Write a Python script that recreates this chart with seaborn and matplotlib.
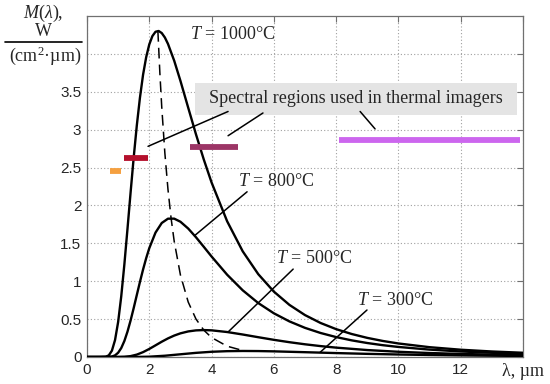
import numpy as np
import pandas as pd
import matplotlib
matplotlib.use("Agg")
import matplotlib.pyplot as plt
import seaborn as sns
from matplotlib.lines import Line2D
from matplotlib.patches import Rectangle

# wavelength (um) and spectral exitance M (W / (cm^2 um))
lam_1000 = [0, 0.4, 0.6, 0.7, 0.8, 0.9, 1.0, 1.1, 1.2, 1.3, 1.4, 1.5, 1.6, 1.7, 1.8, 1.9,
            2.0, 2.1, 2.2, 2.3, 2.4, 2.5, 2.6, 2.8, 3.0, 3.25, 3.5, 3.75, 4.0, 4.5, 5.0,
            5.5, 6.0, 6.5, 7, 7.5, 8, 8.5, 9, 9.5, 10, 11, 12, 13, 14]
m_1000 = [0, 0, 0.0032, 0.0217, 0.0837, 0.223, 0.4625, 0.802, 1.2225, 1.6905, 2.1724,
          2.6357, 3.058, 3.4216, 3.7243, 3.956, 4.1256, 4.2353, 4.2919, 4.3025, 4.2751,
          4.2166, 4.1325, 3.910, 3.6446, 3.2895, 2.9376, 2.6062, 2.3031, 1.7911, 1.3947,
          1.0927, 0.8629, 0.6877, 0.5531, 0.4489, 0.3676, 0.3034, 0.2524, 0.2116, 0.1785,
          0.1295, 0.0961, 0.0728, 0.0560]

lam_800 = [0, 0.6, 0.8, 0.9, 1.0, 1.1, 1.2, 1.3, 1.4, 1.5, 1.6, 1.7, 1.8, 1.9, 2.0, 2.2,
           2.4, 2.6, 2.8, 3.0, 3.25, 3.5, 3.75, 4.0, 4.5, 5.0, 5.5, 6.0, 6.5, 7, 7.5, 8,
           8.5, 9, 9.5, 10, 11, 12, 13, 14]
m_800 = [0, 0.0001, 0.006, 0.0215, 0.0563, 0.1183, 0.2114, 0.3346, 0.4825, 0.647, 0.8193,
         0.9907, 1.1541, 1.3036, 1.4362, 1.6419, 1.7683, 1.8252, 1.8258, 1.785, 1.6951,
         1.58, 1.454, 1.3262, 1.0859, 0.8801, 0.7117, 0.5768, 0.4697, 0.3846, 0.3169,
         0.2629, 0.2195, 0.1844, 0.1559, 0.1326, 0.0975, 0.0731, 0.0558, 0.0433]

lam_500 = [0, 1.0, 1.2, 1.4, 1.6, 1.8, 2.0, 2.2, 2.4, 2.6, 2.8, 3.0, 3.25, 3.5, 3.75, 4.0,
           4.5, 5.0, 5.5, 6.0, 6.5, 7, 7.5, 8, 9, 10, 11, 12, 13, 14]
m_500 = [0, 0.0003, 0.0028, 0.0117, 0.0317, 0.0641, 0.1064, 0.1539, 0.2017, 0.2455,
         0.2827, 0.3121, 0.3375, 0.3513, 0.3554, 0.3519, 0.3296, 0.2968, 0.2611, 0.2266,
         0.1953, 0.1677, 0.1439, 0.1236, 0.0917, 0.0689, 0.0525, 0.0405, 0.0316, 0.025]

lam_300 = [0, 1.5, 2.0, 2.5, 3.0, 3.5, 4.0, 4.5, 5.0, 5.5, 6.0, 7, 8, 9, 10, 11, 12, 13, 14]
m_300 = [0, 0.0003, 0.0041, 0.0167, 0.0358, 0.0547, 0.0689, 0.0769, 0.0796, 0.0783,
         0.0745, 0.0634, 0.0518, 0.0415, 0.0331, 0.0264, 0.0212, 0.0171, 0.0139]

# locus of the maxima (dashed)
lam_peak = [2.276, 2.34, 2.4, 2.5, 2.6, 2.7, 2.8, 3.0, 3.25, 3.5, 3.75, 4.0, 4.5, 5.06]
m_peak = [4.302, 3.746, 3.300, 2.692, 2.212, 1.832, 1.527, 1.082, 0.725, 0.5005, 0.3545,
          0.2567, 0.1425, 0.0792]

temps = ["1000", "800", "500", "300"]

# spectral bands used in thermal imagers (um) and the level they are drawn at
band_start = [0.75, 1.2, 3.3, 8.1]
band_end = [1.1, 1.95, 4.85, 13.9]
band_level = [2.46, 2.63, 2.77, 2.87]
band_colors = ["#f5a040", "#b4102c", "#9c3566", "#cc66ee"]

x_ticks = [0, 2, 4, 6, 8, 10, 12, 14]
x_tick_labels = ["0", "2", "4", "6", "8", "10", "12", "λ, µm"]
y_ticks = [0, 0.5, 1, 1.5, 2, 2.5, 3, 3.5, 4]
y_tick_labels = ["0", "0.5", "1", "1.5", "2", "2.5", "3", "3.5", ""]

sns.set_style("white")
plt.rcParams["font.family"] = ["Liberation Sans", "DejaVu Sans"]
plt.rcParams["mathtext.fontset"] = "custom"
plt.rcParams["mathtext.rm"] = "Liberation Serif"
plt.rcParams["mathtext.it"] = "Liberation Serif:italic"
serif = ["Liberation Serif", "DejaVu Serif"]

frames = []
for t, lam, m in zip(temps, [lam_1000, lam_800, lam_500, lam_300],
                     [m_1000, m_800, m_500, m_300]):
    frames.append(pd.DataFrame({"lam": lam, "M": m, "T": t}))
curves = pd.concat(frames, ignore_index=True)
peaks = pd.DataFrame({"lam": lam_peak, "M": m_peak})

fig = plt.figure(figsize=(5.5, 3.84), dpi=100)
ax = fig.add_axes([87 / 550, 27 / 384, 436 / 550, 341 / 384])

ax.grid(True, linestyle=(0, (1, 2)), color="#a0a0a0", lw=0.8)
ax.set_axisbelow(True)

sns.lineplot(data=curves, x="lam", y="M", hue="T", palette={t: "black" for t in temps},
             estimator=None, legend=False, lw=1.7, ax=ax, zorder=3)
sns.lineplot(data=peaks, x="lam", y="M", color="black", lw=1.1, ax=ax, zorder=3,
             dashes=False, linestyle=(0, (7, 4)))

for x0, x1, y, c in zip(band_start, band_end, band_level, band_colors):
    ax.plot([x0, x1], [y, y], color=c, lw=4.2, solid_capstyle="butt", zorder=4)

# caption box with leader lines
ax.add_patch(Rectangle((3.47, 3.20), 10.34, 0.41, facecolor="#e4e4e4",
                       edgecolor="none", zorder=2))
ax.text(8.64, 3.41, "Spectral regions used in thermal imagers", ha="center",
        va="center", fontsize=13, family=serif, zorder=5)
for (xa, ya), (xb, yb) in [((4.53, 3.24), (1.96, 2.78)),
                           ((5.65, 3.22), (4.53, 2.92)),
                           ((8.77, 3.24), (9.25, 3.01))]:
    ax.plot([xa, xb], [ya, yb], color="black", lw=1.1, zorder=5)

# temperature labels
ax.text(3.31, 4.26, "$T$ = 1000°C", fontsize=13, family=serif, va="center", zorder=5)
ax.text(4.85, 2.32, "$T$ = 800°C", fontsize=13, family=serif, va="center", zorder=5)
ax.text(6.07, 1.30, "$T$ = 500°C", fontsize=13, family=serif, va="center", zorder=5)
ax.text(8.67, 0.75, "$T$ = 300°C", fontsize=13, family=serif, va="center", zorder=5)
for (xa, ya), (xb, yb) in [((5.14, 2.18), (3.45, 1.60)),
                           ((6.62, 1.16), (4.53, 0.33)),
                           ((8.99, 0.62), (7.48, 0.06))]:
    ax.plot([xa, xb], [ya, yb], color="black", lw=1.1, zorder=5)

ax.set_xlim(0, 14)
ax.set_ylim(0, 4.5)
ax.set_xticks(x_ticks)
ax.set_xticklabels(x_tick_labels, fontsize=11)
ax.set_yticks(y_ticks)
ax.set_yticklabels(y_tick_labels, fontsize=11)
unit_label = ax.get_xticklabels()[-1]
unit_label.set_fontfamily(serif)
unit_label.set_fontsize(13)
ax.set_xlabel("")
ax.set_ylabel("")
ax.tick_params(direction="in", length=4, width=0.8, color="#707070",
               top=True, right=True, pad=4)
for s in ax.spines.values():
    s.set_visible(True)
    s.set_color("#707070")
    s.set_linewidth(0.9)

# y axis title as a stacked fraction
fig.text(43 / 550, 1 - 13 / 384, r"$M(\lambda)$,", ha="center", va="center",
         fontsize=13, family=serif)
fig.text(43 / 550, 1 - 31 / 384, "W", ha="center", va="center", fontsize=13,
         family=serif)
fig.add_artist(Line2D([5 / 550, 82 / 550], [1 - 42 / 384, 1 - 42 / 384],
                      color="black", lw=1.2))
fig.text(45 / 550, 1 - 56 / 384, "(cm$^2$·µm)", ha="center", va="center",
         fontsize=13, family=serif)

fig.savefig("out.png", dpi=100)
